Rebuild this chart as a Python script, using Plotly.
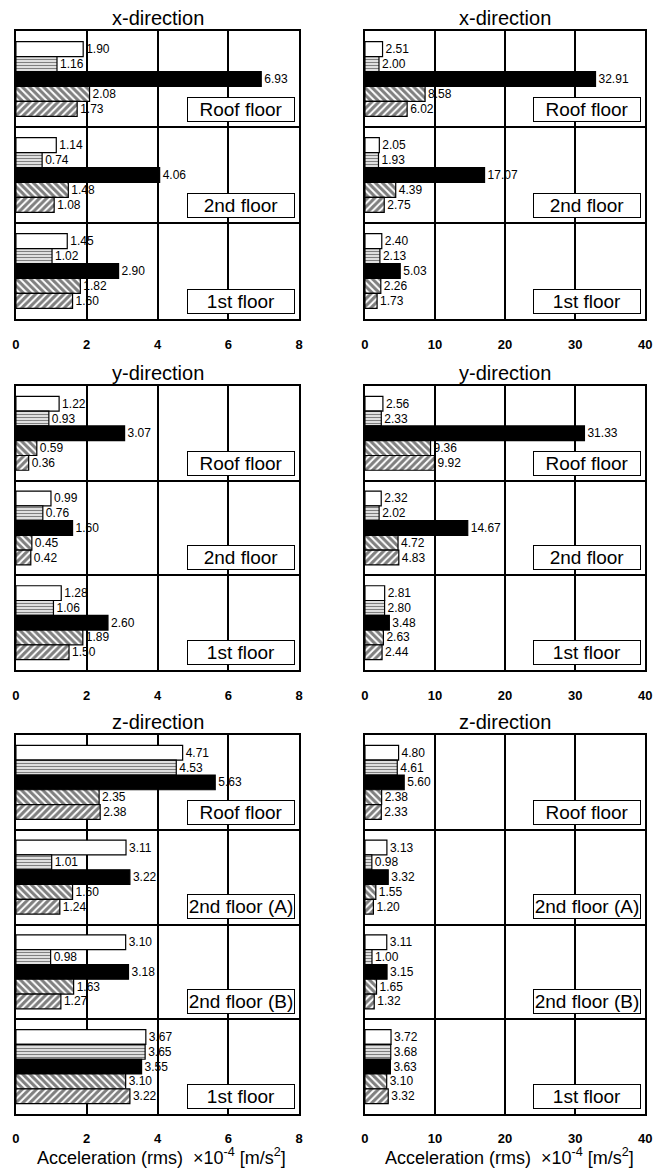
import plotly.graph_objects as go

# ---------------- data ----------------
floors_3 = ["Roof floor", "2nd floor", "1st floor"]
floors_4 = ["Roof floor", "2nd floor (A)", "2nd floor (B)", "1st floor"]
titles = ["x-direction", "y-direction", "z-direction"]
ticks_left = [0, 2, 4, 6, 8]
ticks_right = [0, 10, 20, 30, 40]

# rows = floors (top to bottom), columns = the five bar series
x_left = [[1.90, 1.16, 6.93, 2.08, 1.73],
          [1.14, 0.74, 4.06, 1.48, 1.08],
          [1.45, 1.02, 2.90, 1.82, 1.60]]
x_right = [[2.51, 2.00, 32.91, 8.58, 6.02],
           [2.05, 1.93, 17.07, 4.39, 2.75],
           [2.40, 2.13, 5.03, 2.26, 1.73]]
y_left = [[1.22, 0.93, 3.07, 0.59, 0.36],
          [0.99, 0.76, 1.60, 0.45, 0.42],
          [1.28, 1.06, 2.60, 1.89, 1.50]]
y_right = [[2.56, 2.33, 31.33, 9.36, 9.92],
           [2.32, 2.02, 14.67, 4.72, 4.83],
           [2.81, 2.80, 3.48, 2.63, 2.44]]
z_left = [[4.71, 4.53, 5.63, 2.35, 2.38],
          [3.11, 1.01, 3.22, 1.60, 1.24],
          [3.10, 0.98, 3.18, 1.63, 1.27],
          [3.67, 3.65, 3.55, 3.10, 3.22]]
z_right = [[4.80, 4.61, 5.60, 2.38, 2.33],
           [3.13, 0.98, 3.32, 1.55, 1.20],
           [3.11, 1.00, 3.15, 1.65, 1.32],
           [3.72, 3.68, 3.63, 3.10, 3.32]]

# ---------------- styling ----------------
PAGE_MARGIN = 8                     # browser body margin
W, H = 663 - PAGE_MARGIN, 1168 - PAGE_MARGIN
FONT = "Liberation Sans, Arial, sans-serif"


def px_x(v):
    return (v - PAGE_MARGIN) / W


def px_y(v):
    return 1 - (v - PAGE_MARGIN) / H


col_px = [(12, 300), (367, 652)]
row_px = [(31, 319), (386, 670), (735, 1114)]
tick_standoff = [13, 13, 12]

LINE = dict(color="black", width=1.2)
series_marker = [
    dict(color="white", line=LINE),
    dict(color="white", line=LINE,
         pattern=dict(shape="-", fgcolor="black", bgcolor="white", size=3, solidity=0.5)),
    dict(color="black", line=LINE),
    dict(color="white", line=LINE,
         pattern=dict(shape="\\", fgcolor="black", bgcolor="white", size=5, solidity=0.6)),
    dict(color="white", line=LINE,
         pattern=dict(shape="/", fgcolor="black", bgcolor="white", size=5, solidity=0.6)),
]

panels = [
    (x_left, floors_3, 8, ticks_left, 0, 0),
    (x_right, floors_3, 40, ticks_right, 1, 0),
    (y_left, floors_3, 8, ticks_left, 0, 1),
    (y_right, floors_3, 40, ticks_right, 1, 1),
    (z_left, floors_4, 8, ticks_left, 0, 2),
    (z_right, floors_4, 40, ticks_right, 1, 2),
]

fig = go.Figure()
annotations = []
layout_axes = {}

for i, (data, floors, xmax, ticks, col, row) in enumerate(panels, start=1):
    nf = len(floors)
    xs = "x" if i == 1 else f"x{i}"
    ys = "y" if i == 1 else f"y{i}"
    xk = "xaxis" if i == 1 else f"xaxis{i}"
    yk = "yaxis" if i == 1 else f"yaxis{i}"
    x0, x1 = col_px[col]
    top, bot = row_px[row]
    for s in range(5):
        vals = [data[f][s] for f in range(nf)]
        fig.add_trace(go.Bar(
            y=list(range(nf)), x=vals, orientation="h",
            xaxis=xs, yaxis=ys, marker=series_marker[s],
            text=[f"{v:.2f}" for v in vals], textposition="outside",
            textfont=dict(size=12, color="black", family=FONT),
            constraintext="none", cliponaxis=False, showlegend=False,
            hoverinfo="x",
        ))
    layout_axes[xk] = dict(
        domain=[px_x(x0), px_x(x1)], anchor=ys, range=[0, xmax],
        tickvals=ticks, ticks="", ticklabelstandoff=tick_standoff[row],
        tickfont=dict(size=13, color="black", family=FONT, weight="bold"),
        showgrid=True, gridcolor="black", gridwidth=1.5, zeroline=False,
        showline=True, mirror=True, linecolor="black", linewidth=1.5,
    )
    layout_axes[yk] = dict(
        domain=[px_y(bot), px_y(top)], anchor=xs,
        range=[nf - 0.5, -0.5],
        tickvals=[k + 0.5 for k in range(nf - 1)], showticklabels=False, ticks="",
        showgrid=True, gridcolor="black", gridwidth=1.5, zeroline=False,
        showline=True, mirror=True, linecolor="black", linewidth=1.5,
    )
    # panel title
    annotations.append(dict(
        text=titles[row], xref="paper", yref="paper",
        x=px_x((x0 + x1) / 2), y=px_y(top), xanchor="center", yanchor="bottom",
        yshift=1, borderpad=0, showarrow=False,
        font=dict(size=20, color="black", family=FONT),
    ))
    # floor labels
    for f, name in enumerate(floors):
        annotations.append(dict(
            text=name, xref=f"{xs} domain", yref=ys, x=1, y=f + 0.5,
            xanchor="right", yanchor="bottom", xshift=-4, yshift=5,
            showarrow=False, bgcolor="white", bordercolor="black", borderwidth=1,
            borderpad=1, width=104, align="center",
            font=dict(size=19, color="black", family=FONT),
        ))
    # axis title under bottom panels
    if row == 2:
        annotations.append(dict(
            text="Acceleration (rms)  \u00d710<sup>-4</sup> [m/s<sup>2</sup>]",
            xref="paper", yref="paper", x=px_x((x0 + x1) / 2 + 4), y=px_y(1156),
            xanchor="center", yanchor="middle", borderpad=0, showarrow=False,
            font=dict(size=18, color="black", family=FONT),
        ))

fig.update_layout(
    width=W, height=H, margin=dict(l=0, r=0, t=0, b=0),
    paper_bgcolor="white", plot_bgcolor="white",
    barmode="group", bargap=0.22, bargroupgap=0,
    annotations=annotations, font=dict(family=FONT, color="black"),
    **layout_axes,
)

fig.write_html("out.html")
